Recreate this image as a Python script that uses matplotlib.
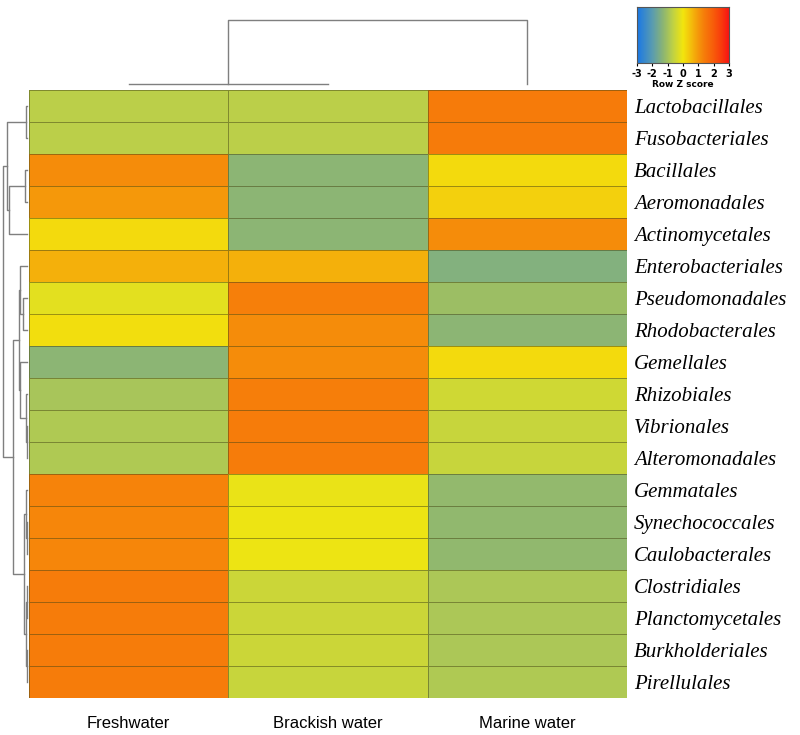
import matplotlib
matplotlib.use("Agg")
import matplotlib.pyplot as plt
import numpy as np
from matplotlib.colors import LinearSegmentedColormap

# ---------------- data ----------------
orders = ["Lactobacillales", "Fusobacteriales", "Bacillales", "Aeromonadales",
          "Actinomycetales", "Enterobacteriales", "Pseudomonadales", "Rhodobacterales",
          "Gemellales", "Rhizobiales", "Vibrionales", "Alteromonadales", "Gemmatales",
          "Synechococcales", "Caulobacterales", "Clostridiales", "Planctomycetales",
          "Burkholderiales", "Pirellulales"]
habitats = ["Freshwater", "Brackish water", "Marine water"]

freshwater = [-0.71, -0.71, 1.15, 1.00, 0.15, 0.70, -0.20, 0.10, -1.30, -0.95,
              -0.85, -0.85, 1.30, 1.25, 1.25, 1.40, 1.40, 1.40, 1.40]
brackish = [-0.71, -0.71, -1.30, -1.30, -1.30, 0.70, 1.35, 1.15, 1.15, 1.38,
            1.40, 1.40, -0.10, -0.05, -0.05, -0.50, -0.50, -0.50, -0.55]
marine = [1.41, 1.41, 0.15, 0.30, 1.15, -1.41, -1.10, -1.30, 0.15, -0.45,
          -0.55, -0.55, -1.20, -1.22, -1.22, -0.90, -0.90, -0.90, -0.85]

# row dendrogram merges: (child, child, height); leaves are 0..18
row_links = [(0, 1, 1.0), (2, 3, 2.0), (20, 4, 18.0), (19, 21, 20.0),
             (6, 7, 4.3), (5, 23, 7.0), (10, 11, 0.5), (9, 25, 1.0),
             (8, 26, 7.5), (24, 27, 8.0), (13, 14, 0.5), (12, 29, 1.0),
             (15, 16, 0.5), (17, 18, 0.5), (31, 32, 1.0), (30, 33, 3.0),
             (28, 34, 14.0), (22, 35, 23.7)]
# column dendrogram merges; leaves are 0..2
col_links = [(0, 1, 0.0), (3, 2, 64.0)]

cbar_ticks = [-3, -2, -1, 0, 1, 2, 3]

# ---------------- styling ----------------
anchors = [(-3.0, "#1a78e6"), (-2.0, "#5a9cb0"), (-1.3, "#8cb573"),
           (-0.7, "#bcd048"), (0.0, "#f2e60e"), (0.5, "#f4c00c"),
           (1.0, "#f5980a"), (1.4, "#f67c0a"), (2.0, "#f85c0a"),
           (2.5, "#f83c0c"), (3.0, "#f81414")]
cmap = LinearSegmentedColormap.from_list(
    "rowz", [((v + 3) / 6.0, c) for v, c in anchors])

W, H = 800, 735
fig = plt.figure(figsize=(W / 100, H / 100), dpi=100)


def ax_px(x0, y0, x1, y1):
    return fig.add_axes([x0 / W, 1 - y1 / H, (x1 - x0) / W, (y1 - y0) / H])


Z = np.array([freshwater, brackish, marine]).T

# heatmap
hx0, hy0, hx1, hy1 = 29, 90, 627, 698
ax = ax_px(hx0, hy0, hx1, hy1)
ax.pcolormesh(Z, cmap=cmap, vmin=-3, vmax=3,
              edgecolors=(0.28, 0.28, 0.08, 0.5), linewidth=0.6)
ax.set_xlim(0, len(habitats))
ax.set_ylim(len(orders), 0)
for s in ax.spines.values():
    s.set_visible(False)
ax.set_xticks(np.arange(len(habitats)) + 0.5)
ax.set_xticklabels(habitats, fontsize=12, family="Liberation Sans")
ax.set_yticks(np.arange(len(orders)) + 0.5)
ax.set_yticklabels(orders, fontsize=15, family="Liberation Serif", style="italic")
ax.yaxis.tick_right()
ax.tick_params(length=0, pad=5)
ax.tick_params(axis="x", pad=13)


def dendro_segments(links, n_leaves):
    pos = {i: i + 0.5 for i in range(n_leaves)}
    hgt = {i: 0.0 for i in range(n_leaves)}
    segs = []
    for k, (a, b, h) in enumerate(links):
        node = n_leaves + k
        pa, pb = pos[a], pos[b]
        segs.append(([pa, pa, pb, pb], [hgt[a], h, h, hgt[b]]))
        pos[node] = (pa + pb) / 2
        hgt[node] = h
    return segs


line_col = "#7f7f7f"

# row dendrogram (left)
axr = ax_px(2, hy0, 27, hy1)
for p, h in dendro_segments(row_links, len(orders)):
    axr.plot(h, p, color=line_col, lw=1.0, clip_on=False)
axr.set_ylim(len(orders), 0)
axr.set_xlim(25, 0)
axr.axis("off")

# column dendrogram (top)
axc = ax_px(hx0, 20, hx1, 84)
for p, h in dendro_segments(col_links, len(habitats)):
    axc.plot(p, h, color=line_col, lw=1.0, clip_on=False)
axc.set_xlim(0, len(habitats))
axc.set_ylim(0, 64)
axc.axis("off")

# colour key
axk = ax_px(637, 7, 729, 63)
grad = np.linspace(-3, 3, 256)[None, :]
axk.imshow(grad, aspect="auto", cmap=cmap, vmin=-3, vmax=3,
           extent=[-3, 3, 0, 1])
axk.set_xlim(-3, 3)
axk.set_yticks([])
axk.set_xticks(cbar_ticks)
axk.set_xticklabels([str(t) for t in cbar_ticks], fontsize=7, fontweight="bold")
axk.tick_params(axis="x", length=2.5, width=0.8, pad=1.5)
axk.set_xlabel("Row Z score", fontsize=6.5, fontweight="bold", labelpad=1)
for s in axk.spines.values():
    s.set_color("#555555")
    s.set_linewidth(0.8)

fig.savefig("out.png", dpi=100)
